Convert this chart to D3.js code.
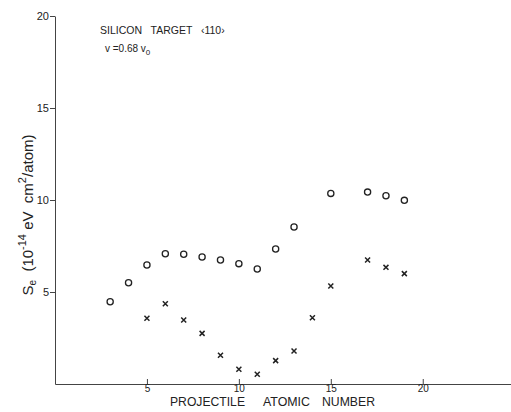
<!DOCTYPE html>
<html>
<head>
<meta charset="utf-8">
<script src="https://cdn.jsdelivr.net/npm/d3@7"></script>
<style>
  body { margin: 0; background: #fff; }
  svg { display: block; }
  text { font-family: "Liberation Sans", Arial, sans-serif; fill: #222; }
</style>
</head>
<body>
<div id="chart"></div>
<script>
// open circles
var circleZ = [3, 4, 5, 6, 7, 8, 9, 10, 11, 12, 13, 15, 17, 18, 19];
var circleS = [4.47, 5.5, 6.47, 7.08, 7.05, 6.9, 6.74, 6.54, 6.25, 7.34, 8.53, 10.36, 10.43, 10.23, 9.98];
// crosses
var crossZ = [5, 6, 7, 8, 9, 10, 11, 12, 13, 14, 15, 17, 18, 19];
var crossS = [3.57, 4.36, 3.48, 2.75, 1.56, 0.8, 0.53, 1.27, 1.79, 3.6, 5.33, 6.74, 6.34, 6.0];

var xTicks = [5, 10, 15, 20];
var yTicks = [5, 10, 15, 20];
var xTitleWords = ["PROJECTILE", "ATOMIC", "NUMBER"];

var W = 511, H = 412;
var svg = d3.select("#chart").append("svg").attr("width", W).attr("height", H);

var x = d3.scaleLinear().domain([0, 24.8]).range([55, 511]);
var y = d3.scaleLinear().domain([0, 20]).range([384, 16]);

// x axis (ticks pointing up, labels below)
var xa = svg.append("g").attr("transform", "translate(0," + y(0) + ")")
	.call(d3.axisBottom(x).tickValues(xTicks).tickSize(-5).tickPadding(1).tickSizeOuter(0));
xa.selectAll("text").attr("dy", "0.7em").style("font-size", "10px");

// y axis
var ya = svg.append("g").attr("transform", "translate(" + x(0) + ",0)")
	.call(d3.axisLeft(y).tickValues(yTicks).tickSize(5).tickPadding(1).tickSizeOuter(0));
ya.selectAll("text").style("font-size", "11px");

svg.selectAll(".domain, .tick line").attr("stroke", "#444").attr("stroke-width", 1);
svg.selectAll(".tick text").attr("fill", "#222");

// data
svg.selectAll("circle.pt").data(circleZ).enter().append("circle")
	.attr("class", "pt")
	.attr("cx", function (d) { return x(d); })
	.attr("cy", function (d, i) { return y(circleS[i]); })
	.attr("r", 3.1)
	.attr("fill", "none")
	.attr("stroke", "#222")
	.attr("stroke-width", 1.3);

var xsym = d3.symbol().type(d3.symbolX).size(18);
svg.selectAll("path.cross").data(crossZ).enter().append("path")
	.attr("class", "cross")
	.attr("transform", function (d, i) { return "translate(" + x(d) + "," + y(crossS[i]) + ")"; })
	.attr("d", xsym)
	.attr("fill", "none")
	.attr("stroke", "#222")
	.attr("stroke-width", 1.5);

// annotations
svg.append("text").attr("x", 100).attr("y", 34).style("font-size", "10.5px")
	.attr("xml:space", "preserve")
	.text("SILICON   TARGET   \u2039110\u203A");
var vt = svg.append("text").attr("x", 105).attr("y", 52).style("font-size", "10px");
vt.append("tspan").text("v =0.68 v");
vt.append("tspan").attr("dy", 3).style("font-size", "8px").text("0");

// axis titles (word by word, narrow lettering like the original)
var wordX = [170, 263, 322], wordW = [75, 47, 53];
svg.selectAll("text.xtitle").data(xTitleWords).enter().append("text")
	.attr("class", "xtitle")
	.attr("x", function (d, i) { return wordX[i]; })
	.attr("y", 406)
	.attr("textLength", function (d, i) { return wordW[i]; })
	.attr("lengthAdjust", "spacingAndGlyphs")
	.style("font-size", "13.5px")
	.text(function (d) { return d; });

var yl = svg.append("text")
	.attr("transform", "translate(33,215) rotate(-90)")
	.attr("text-anchor", "middle")
	.style("font-size", "15px")
	.attr("xml:space", "preserve");
yl.append("tspan").text("S");
yl.append("tspan").attr("dy", 3).style("font-size", "10px").text("e");
yl.append("tspan").attr("dy", -3).text("  (10");
yl.append("tspan").attr("dy", -7).style("font-size", "11px").text("-14");
yl.append("tspan").attr("dy", 7).text(" eV  cm");
yl.append("tspan").attr("dy", -7).style("font-size", "11px").text("2");
yl.append("tspan").attr("dy", 7).text("/atom)");
</script>
</body>
</html>
